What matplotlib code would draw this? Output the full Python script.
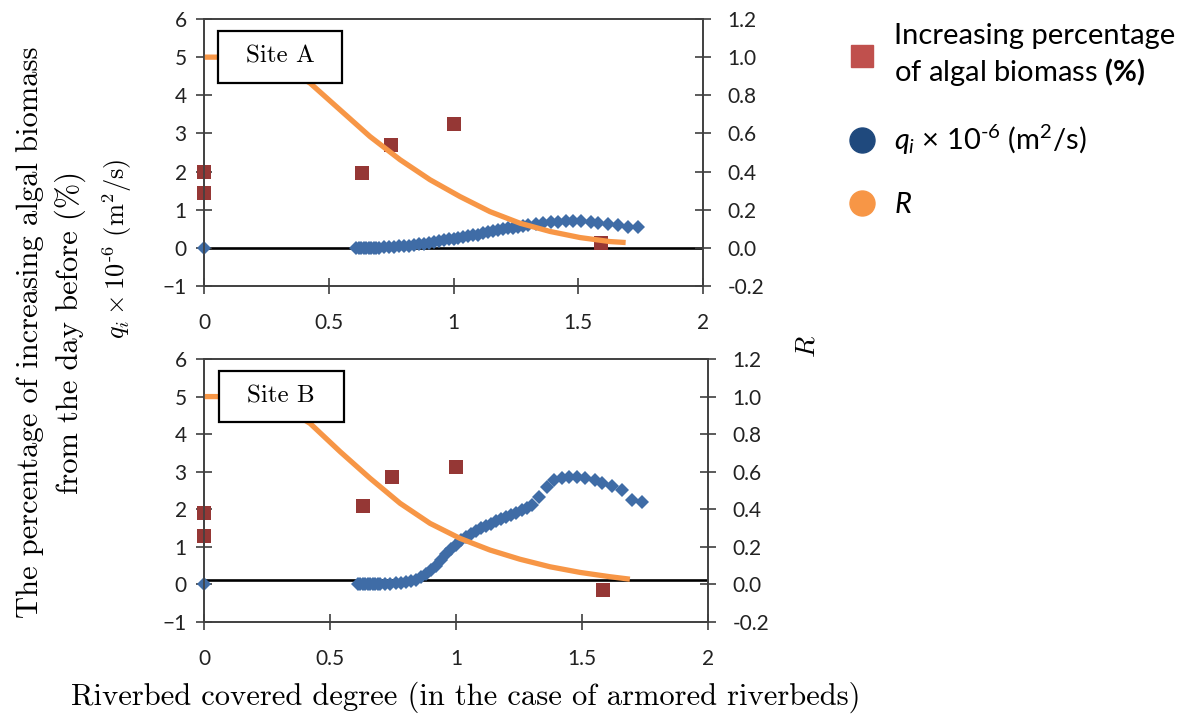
import matplotlib
matplotlib.use("Agg")
import matplotlib.pyplot as plt
from matplotlib.lines import Line2D
from matplotlib.patches import Rectangle
from matplotlib.ticker import FuncFormatter

plt.rcParams['font.family'] = ['Lato', 'DejaVu Sans']
plt.rcParams['mathtext.fontset'] = 'custom'
plt.rcParams['mathtext.rm'] = 'Lato'
plt.rcParams['mathtext.it'] = 'Lato:italic'
plt.rcParams['mathtext.bf'] = 'Lato:bold'

# increasing percentage of algal biomass (%)
sq_x_a = [0, 0, 0.635, 0.75, 1.0, 1.59]
sq_y_a = [2.0, 1.45, 1.97, 2.69, 3.26, 0.14]
sq_x_b = [0, 0, 0.632, 0.745, 1.0, 1.585]
sq_y_b = [1.91, 1.29, 2.09, 2.87, 3.13, -0.15]

# q_i x 10^-6 (m2/s)
q_x = [0, 0.61, 0.62, 0.63, 0.64, 0.65, 0.66, 0.67, 0.68, 0.69, 0.70,
       0.72, 0.74, 0.76, 0.78, 0.80, 0.82, 0.84, 0.86, 0.88, 0.90,
       0.92, 0.94, 0.96, 0.98, 1.00, 1.02, 1.04, 1.06, 1.08, 1.10,
       1.12, 1.14, 1.16, 1.18, 1.20, 1.22, 1.24, 1.26, 1.28, 1.30,
       1.33, 1.36, 1.39, 1.42, 1.45, 1.48, 1.51, 1.55, 1.58, 1.62, 1.66, 1.70, 1.74]
q_a = [0, 0.0, 0.0, 0.0, 0.0, 0.0, 0.0, 0.0, 0.0, 0.0, 0.0,
       0.01, 0.02, 0.03, 0.04, 0.05, 0.06, 0.07, 0.09, 0.11, 0.13,
       0.16, 0.18, 0.20, 0.22, 0.24, 0.26, 0.28, 0.31, 0.33, 0.35,
       0.38, 0.41, 0.44, 0.46, 0.49, 0.51, 0.53, 0.55, 0.57, 0.59,
       0.62, 0.65, 0.67, 0.69, 0.70, 0.71, 0.70, 0.68, 0.66, 0.63, 0.60, 0.55, 0.54]
q_b = [0, 0.0, 0.0, 0.0, 0.0, 0.0, 0.0, 0.0, 0.0, 0.0, 0.01,
       0.01, 0.02, 0.03, 0.04, 0.06, 0.09, 0.13, 0.20, 0.28, 0.38,
       0.50, 0.66, 0.80, 0.94, 1.06, 1.17, 1.25, 1.34, 1.42, 1.50,
       1.56, 1.62, 1.68, 1.74, 1.80, 1.86, 1.91, 1.97, 2.03, 2.12,
       2.33, 2.58, 2.78, 2.84, 2.86, 2.86, 2.83, 2.78, 2.70, 2.62, 2.51, 2.24, 2.19]

# R (right axis)
r_x_a = [0, 0.05, 0.1, 0.2, 0.3, 0.425, 0.545, 0.665, 0.786, 0.906, 1.026,
         1.146, 1.267, 1.387, 1.507, 1.627, 1.69]
r_a = [1.0, 1.0, 0.998, 0.993, 0.962, 0.864, 0.724, 0.584, 0.462, 0.357, 0.269,
       0.19, 0.129, 0.086, 0.054, 0.033, 0.028]
r_x_b = [0, 0.05, 0.1, 0.2, 0.3, 0.421, 0.54, 0.659, 0.778, 0.897, 1.016,
         1.135, 1.254, 1.373, 1.492, 1.611, 1.69]
r_b = [1.0, 1.0, 0.998, 0.99, 0.958, 0.857, 0.707, 0.565, 0.432, 0.325, 0.245,
       0.183, 0.134, 0.094, 0.064, 0.041, 0.028]

panels = [("Site A", sq_x_a, sq_y_a, q_a, r_x_a, r_a, 0.0, [204, 19, 703, 286]),
          ("Site B", sq_x_b, sq_y_b, q_b, r_x_b, r_b, 0.13, [204, 359, 708, 622])]

W, H = 1195, 715
fig = plt.figure(figsize=(W / 100, H / 100), dpi=100)

sq_col = "#953735"
q_col = "#3F6CA6"
r_col = "#F79646"
spine_col = "#404040"
fmt = FuncFormatter(lambda v, p: "%g" % v)

for name, sx, sy, qy, rx, ry, zero, box in panels:
    l, t, r, b = box
    ax = fig.add_axes([l / W, 1 - b / H, (r - l) / W, (b - t) / H])
    ax2 = ax.twinx()
    ax.set_xlim(0, 2)
    ax.set_ylim(-1, 6)
    ax2.set_ylim(-0.2, 1.2)
    ax.set_xticks([0, 0.5, 1, 1.5, 2])
    ax.set_yticks(range(-1, 7))
    ax2.set_yticks([-0.2, 0, 0.2, 0.4, 0.6, 0.8, 1.0, 1.2])
    ax.xaxis.set_major_formatter(fmt)
    ax2.yaxis.set_major_formatter(FuncFormatter(lambda v, p: "%.1f" % v))

    ax.axhline(zero, color="black", lw=1.9, zorder=1)
    ax.plot(q_x, qy, "D", color=q_col, ms=7, mew=0, zorder=3, clip_on=False)
    ax.plot(sx, sy, "s", color=sq_col, ms=10, mew=0, zorder=4, clip_on=False)
    ax2.plot(rx, ry, "-", color=r_col, lw=3.8, solid_capstyle="butt",
             solid_joinstyle="round", zorder=2)

    for a in (ax, ax2):
        for s in a.spines.values():
            s.set_color(spine_col)
            s.set_linewidth(1.2)
        a.tick_params(direction="inout", length=11, width=1.2, color=spine_col,
                      labelsize=15, labelcolor="#222222")
    ax.tick_params(axis="x", pad=14)
    ax.tick_params(axis="y", pad=7)
    ax2.tick_params(axis="y", pad=12)

    # site label box
    ax2.add_patch(Rectangle((0.029, 0.762), 0.248, 0.192, transform=ax2.transAxes,
                            fc="white", ec="black", lw=1.6, zorder=9))
    ax2.text(0.153, 0.858, name, transform=ax2.transAxes, family="cmr10",
             fontsize=18, ha="center", va="center", zorder=10)

serif = "cmr10"
fig.text(30 / W, 1 - 332 / H, "The percentage of increasing algal biomass",
         rotation=90, family=serif, fontsize=22, ha="center", va="center")
fig.text(70 / W, 1 - 332 / H, "from the day before (%)",
         rotation=90, family=serif, fontsize=22, ha="center", va="center")
fig.text(117 / W, 1 - 249 / H, r"$q_i\times10^{\text{-}6}$ (m$^2$/s)",
         rotation=90, family=serif, fontsize=19, ha="center", va="center",
         math_fontfamily="cm")
fig.text(806 / W, 1 - 347 / H, r"$R$", rotation=90, fontsize=20,
         ha="center", va="center", math_fontfamily="cm")
fig.text(466 / W, 1 - 697 / H,
         "Riverbed covered degree (in the case of armored riverbeds)",
         family=serif, fontsize=22, ha="center", va="center")

handles = [Line2D([], [], marker="s", ls="", color="#C0504D", ms=16),
           Line2D([], [], marker="o", ls="", color="#1F497D", ms=18),
           Line2D([], [], marker="o", ls="", color="#F79646", ms=18)]
labels = ["Increasing percentage\nof algal biomass " + r"$\mathbf{(\%)}$",
          r"$q_i$ $\times$ 10$^{\text{-}6}$ (m$^2$/s)",
          r"$R$"]
leg = fig.legend(handles, labels, loc="upper left", bbox_to_anchor=(833 / W, 1 - 11 / H),
                 frameon=False, fontsize=21, handletextpad=0.5, labelspacing=1.2,
                 handlelength=1.2, borderaxespad=0)
leg.get_texts()[0].set_linespacing(1.3)

fig.savefig("out.png", dpi=100)
